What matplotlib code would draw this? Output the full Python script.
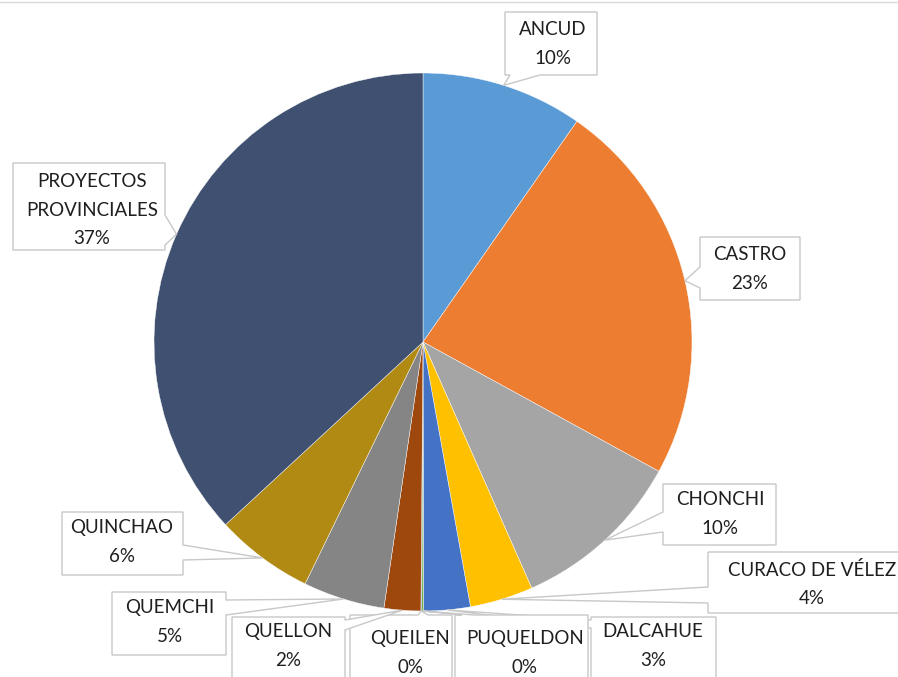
import numpy as np
import matplotlib
matplotlib.use("Agg")
import matplotlib.pyplot as plt
from matplotlib.patches import Polygon

categories = ["ANCUD", "CASTRO", "CHONCHI", "CURACO DE VÉLEZ", "DALCAHUE",
              "PUQUELDON", "QUEILEN", "QUELLON", "QUEMCHI", "QUINCHAO",
              "PROYECTOS\nPROVINCIALES"]
values = [9.7, 23.3, 10.4, 3.8, 2.8, 0.1, 0.05, 2.2, 4.9, 5.9, 36.9]
pct_labels = ["10%", "23%", "10%", "4%", "3%", "0%", "0%", "2%", "5%", "6%", "37%"]
colors = ["#5B9BD5", "#ED7D31", "#A5A5A5", "#FFC000", "#4472C4", "#70AD47",
          "#255E91", "#9E480E", "#858585", "#B08A12", "#3F5070"]

W, H = 898, 677
plt.rcParams['font.family'] = ['Lato', 'DejaVu Sans']
fig = plt.figure(figsize=(W / 100, H / 100), dpi=100)
ax = fig.add_axes([0, 0, 1, 1])
ax.set_xlim(0, W)
ax.set_ylim(0, H)
ax.set_aspect('equal')
ax.axis('off')

cx, cy, R = 423, 342, 269
wedges, _ = ax.pie(values, colors=colors, startangle=90, counterclock=False,
                   center=(cx, H - cy), radius=R, frame=True,
                   wedgeprops=dict(edgecolor='white', linewidth=0.3))
ax.set_xlim(0, W)
ax.set_ylim(0, H)
ax.axis('off')

# top border line
ax.plot([0, W], [H - 2, H - 2], color='#d9d9d9', lw=1)

# layout: box (x0, y0, x1, y1) in pixels, pointer side, base interval, text center
layout = [
    ((505, 12, 597, 75), 'bottom', (510, 540), (553, 44)),
    ((700, 237, 800, 300), 'left', (267, 288), (750, 269)),
    ((663, 484, 776, 545), 'left', (512, 532), (720, 514)),
    ((708, 552, 905, 613), 'left', (587, 603), (812, 584)),
    ((591, 617, 716, 690), 'left', (620, 628), (653, 646)),
    ((455, 615, 588, 690), 'top', (462, 474), (525, 653)),
    ((350, 615, 452, 690), 'top', (418, 428), (410, 653)),
    ((232, 617, 345, 690), 'right', (620, 630), (288, 646)),
    ((112, 592, 226, 655), 'right', (600, 615), (170, 622)),
    ((62, 512, 183, 575), 'right', (545, 560), (122, 542)),
    ((13, 163, 165, 250), 'right', (215, 245), (92, 210)),
]

edge_col = '#c8c8c8'
for w, cat, pct, (box, side, base, tc) in zip(wedges, categories, pct_labels, layout):
    mid = np.deg2rad((w.theta1 + w.theta2) / 2)
    tx = w.center[0] + w.r * np.cos(mid)
    ty = w.center[1] + w.r * np.sin(mid)
    tip = (tx, H - ty)  # pixel coords
    x0, y0, x1, y1 = box
    a, b = base
    if side == 'bottom':
        pts = [(x0, y0), (x1, y0), (x1, y1), (b, y1), tip, (a, y1), (x0, y1)]
    elif side == 'top':
        pts = [(x0, y0), (a, y0), tip, (b, y0), (x1, y0), (x1, y1), (x0, y1)]
    elif side == 'left':
        pts = [(x0, y0), (x1, y0), (x1, y1), (x0, y1), (x0, b), tip, (x0, a)]
    else:
        pts = [(x0, y0), (x1, y0), (x1, a), tip, (x1, b), (x1, y1), (x0, y1)]
    poly = Polygon([(px, H - py) for px, py in pts], closed=True,
                   facecolor='white', edgecolor=edge_col, lw=1.0, zorder=3)
    ax.add_patch(poly)
    ax.text(tc[0], H - tc[1], cat + "\n" + pct, ha='center', va='center',
            fontsize=13.5, color='#1f1f1f', linespacing=1.8, zorder=4)

fig.savefig("out.png", dpi=100)
